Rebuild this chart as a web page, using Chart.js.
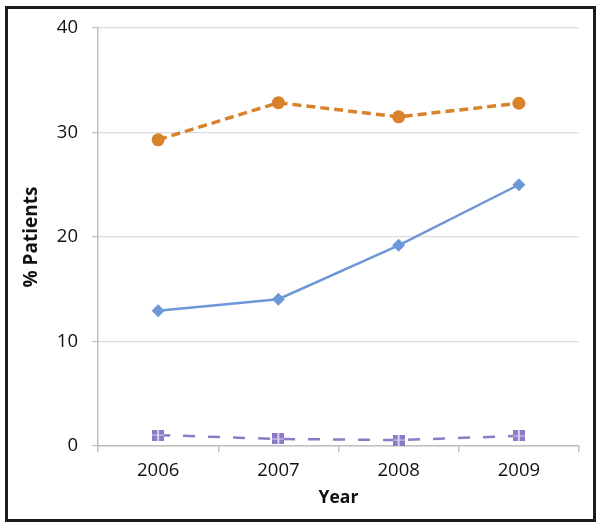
<!DOCTYPE html>
<html>
<head>
<meta charset="utf-8">
<script src="https://cdn.jsdelivr.net/npm/chart.js@4/dist/chart.umd.min.js"></script>
<style>
  html, body { margin: 0; padding: 0; background: #fff; }
  #wrap { position: absolute; left: 0; top: 0; width: 604px; height: 530px; }
  #frame { position: absolute; left: 5px; top: 6px; width: 591px; height: 516px; box-sizing: border-box; border: 3px solid #1c1c1c; pointer-events: none; }
</style>
</head>
<body>
<div id="wrap"><canvas id="chart" width="604" height="530"></canvas></div>
<div id="frame"></div>
<script>
// values
const years = ["2006", "2007", "2008", "2009"];
const orangeSeries = [29.3, 32.85, 31.5, 32.8];
const blueSeries = [12.95, 14.05, 19.2, 25.0];
const purpleSeries = [1.05, 0.67, 0.57, 0.96];
const yTicks = [0, 10, 20, 30, 40];

const FONT = "'Open Sans', 'DejaVu Sans', sans-serif";

// little checkered square marker for the purple series
function squareMarker() {
  const c = document.createElement("canvas");
  c.width = 12; c.height = 11;
  const g = c.getContext("2d");
  g.fillStyle = "#8b7bc6";
  g.fillRect(0, 0, 12, 11);
  g.fillStyle = "#d9d2f0";
  g.fillRect(5, 0, 2, 11);
  g.fillRect(0, 5, 12, 1);
  return c;
}

new Chart(document.getElementById("chart"), {
  type: "line",
  data: {
    labels: years,
    datasets: [
      {
        data: orangeSeries,
        borderColor: "#d8832b",
        backgroundColor: "#d8832b",
        borderWidth: 3.5,
        borderDash: [9, 5],
        pointStyle: "circle",
        pointRadius: 6.5,
        pointBorderWidth: 0,
        tension: 0,
      },
      {
        data: blueSeries,
        borderColor: "#6c98d8",
        backgroundColor: "#6c98d8",
        borderWidth: 2.5,
        pointStyle: "rectRot",
        pointRadius: 6.5,
        pointBorderWidth: 0,
        tension: 0,
      },
      {
        data: purpleSeries,
        borderColor: "#8b7bc6",
        backgroundColor: "#8b7bc6",
        borderWidth: 2.5,
        borderDash: [12, 13],
        pointStyle: squareMarker(),
        pointRadius: 6,
        tension: 0,
      },
    ],
  },
  options: {
    responsive: false,
    animation: false,
    layout: { padding: { top: 28, right: 25, bottom: 0, left: 0 } },
    plugins: { legend: { display: false }, tooltip: { enabled: false } },
    scales: {
      x: {
        offset: true,
        afterFit: s => { s.height = 84; },
        grid: { offset: true, drawOnChartArea: false, tickLength: 6, color: "#bfbfbf", lineWidth: 1.5 },
        border: { color: "#bfbfbf", width: 1.5 },
        ticks: { color: "#111", font: { family: FONT, size: 18.5 }, padding: 8 },
        title: { display: true, text: "Year", color: "#111", font: { family: FONT, size: 17.5, weight: "bold" }, padding: { top: 0, bottom: 21 } },
      },
      y: {
        min: 0,
        max: 40,
        afterFit: s => { s.width = 98; },
        afterBuildTicks: s => { s.ticks = yTicks.map(v => ({ value: v })); },
        grid: { color: "#dcdcdc", lineWidth: 1.2, tickLength: 6, tickColor: "#bfbfbf" },
        border: { color: "#bfbfbf", width: 1.5 },
        ticks: { color: "#111", font: { family: FONT, size: 18.5 }, padding: 14 },
        title: { display: true, text: "% Patients", color: "#111", font: { family: FONT, size: 19, weight: "bold" }, padding: { top: 20, bottom: 0 } },
      },
    },
  },
});
</script>
</body>
</html>
